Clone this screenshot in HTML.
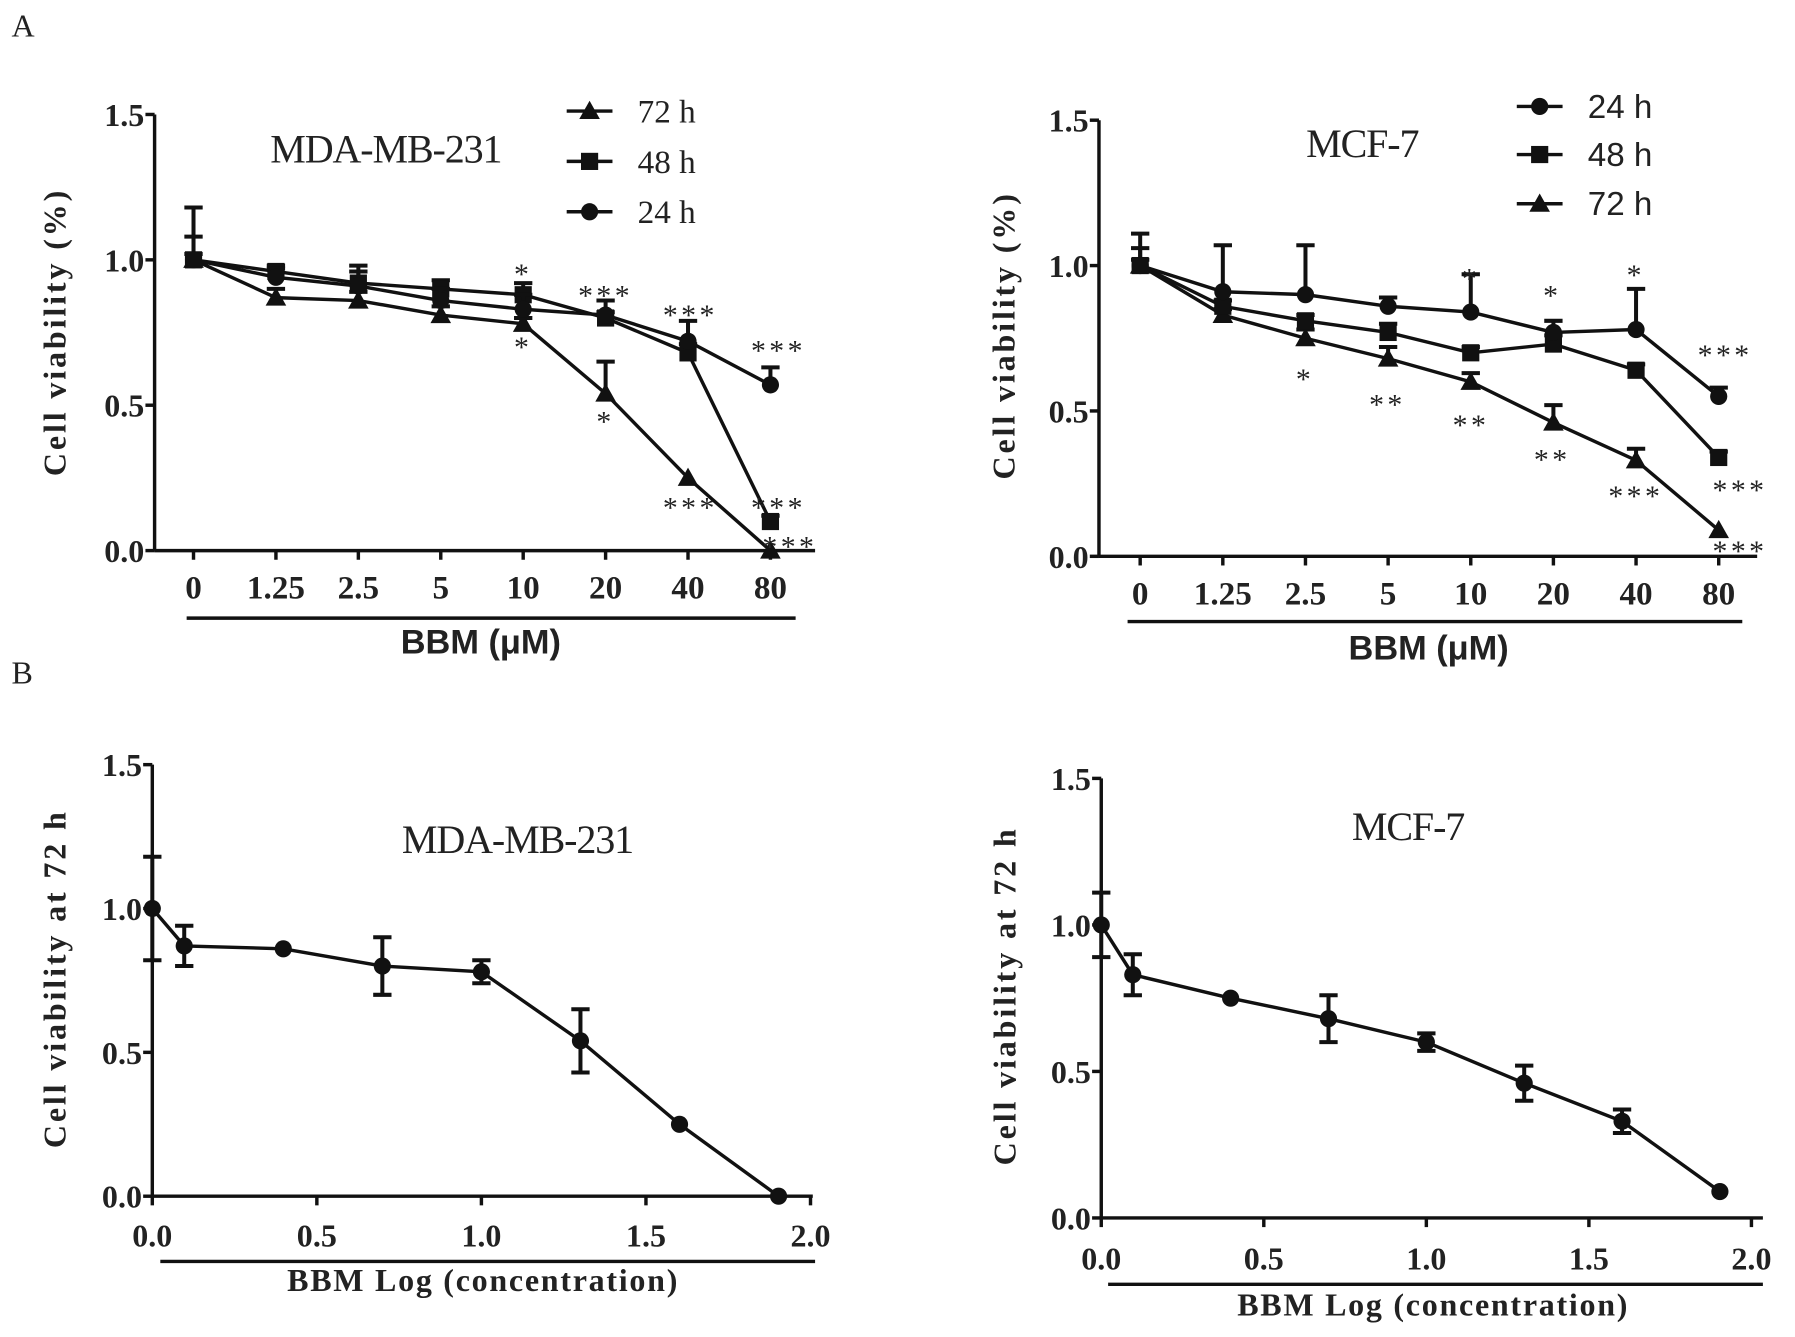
<!DOCTYPE html>
<html><head><meta charset="utf-8"><style>
html,body{margin:0;padding:0;background:#fff;}
svg{display:block;}
text{fill:#222;}
</style></head><body>
<svg id="fig" width="1795" height="1337" viewBox="0 0 1568 1168" xmlns="http://www.w3.org/2000/svg">
<text x="10" y="32" font-family="Liberation Serif, serif" font-size="28">A</text>
<text x="10" y="597" font-family="Liberation Serif, serif" font-size="28">B</text>
</svg>
<script>
const concLabels = ["0","1.25","2.5","5","10","20","40","80"];
const yTicks = [0, 0.5, 1.0, 1.5];
const yTickLabels = ["0.0","0.5","1.0","1.5"];
const logX = [0, 0.097, 0.398, 0.699, 1.0, 1.301, 1.602, 1.903];
const logTicks = [0, 0.5, 1.0, 1.5, 2.0];
const logTickLabels = ["0.0","0.5","1.0","1.5","2.0"];

const mdaV24 = [1.0, 0.94, 0.91, 0.86, 0.83, 0.81, 0.72, 0.57];
const mdaE24 = [0.08, 0.03, 0.05, 0.04, 0.05, 0.05, 0.07, 0.06];
const mdaV48 = [1.0, 0.96, 0.92, 0.90, 0.88, 0.80, 0.68, 0.10];
const mdaE48 = [0.02, 0.02, 0.06, 0.03, 0.04, 0.02, 0.03, 0.02];
const mdaV72 = [1.0, 0.87, 0.86, 0.81, 0.78, 0.54, 0.25, 0.0];
const mdaE72 = [0.18, 0.03, 0.03, 0.03, 0.02, 0.11, 0.01, 0.0];

const mcfV24 = [1.0, 0.91, 0.90, 0.86, 0.84, 0.77, 0.78, 0.55];
const mcfE24 = [0.11, 0.16, 0.17, 0.03, 0.13, 0.04, 0.14, 0.03];
const mcfV48 = [1.0, 0.86, 0.81, 0.77, 0.70, 0.73, 0.64, 0.34];
const mcfE48 = [0.06, 0.02, 0.02, 0.03, 0.02, 0.03, 0.02, 0.02];
const mcfV72 = [1.0, 0.83, 0.75, 0.68, 0.60, 0.46, 0.33, 0.09];
const mcfE72 = [0.02, 0.02, 0.03, 0.04, 0.03, 0.06, 0.04, 0.01];

const mdaLogV = [1.0, 0.87, 0.86, 0.80, 0.78, 0.54, 0.25, 0.0];
const mdaLogE = [0.18, 0.07, 0.01, 0.10, 0.04, 0.11, 0.01, 0.0];
const mcfLogV = [1.0, 0.83, 0.75, 0.68, 0.60, 0.46, 0.33, 0.09];
const mcfLogE = [0.11, 0.07, 0.01, 0.08, 0.03, 0.06, 0.04, 0.01];

const svg = document.getElementById('fig');
const NS = 'http://www.w3.org/2000/svg';
function mk(tag, attrs, parent){
  const e = document.createElementNS(NS, tag);
  for (const k in attrs) e.setAttribute(k, attrs[k]);
  (parent||svg).appendChild(e);
  return e;
}
function txt(s, x, y, size, fam, weight, anchor, parent){
  const t = mk('text', {x:x, y:y, 'font-size':size, 'font-family':fam, 'font-weight':weight||'normal', 'text-anchor':anchor||'middle'}, parent);
  t.textContent = s;
  return t;
}
const SERIF = 'Liberation Serif, serif', SANS = 'Liberation Sans, sans-serif';

function marker(type, x, y, g){
  let m;
  if (type === 'circle') m = mk('circle', {cx:x, cy:y, r:7.5, fill:'#111'}, g);
  else if (type === 'square') m = mk('rect', {x:x-7.5, y:y-7.5, width:15, height:15, fill:'#111'}, g);
  else m = mk('polygon', {points:`${x},${y-9} ${x-9},${y+7} ${x+9},${y+7}`, fill:'#111'}, g);
  
  
}

function axes(p, name){
  const g = mk('g', {});
  
  
  const sy = v => p.y0 + (p.y15 - p.y0) * v / 1.5;
  const ya = mk('line', {x1:p.ax, y1:sy(0), x2:p.ax, y2:sy(1.5), stroke:'#111', 'stroke-width':3}, g);
  
  
  yTicks.forEach((v, i) => {
    mk('line', {x1:p.ax-8, y1:sy(v), x2:p.ax, y2:sy(v), stroke:'#111', 'stroke-width':3}, g);
    const t = txt(yTickLabels[i], p.ax-9, sy(v)+10, 28, SERIF, 'bold', 'end', g);
    
    
  });
  const xa = mk('line', {x1:p.ax, y1:sy(0), x2:p.axEnd, y2:sy(0), stroke:'#111', 'stroke-width':3}, g);
  
  
  const ul = mk('line', {x1:p.ulx1, y1:p.uly, x2:p.ulx2, y2:p.uly, stroke:'#111', 'stroke-width':3}, g);
  
  
  const yl = txt(p.ylabel, 0, 0, 28, SERIF, 'bold', 'middle', g);
  yl.setAttribute('letter-spacing', '2.5');
  yl.setAttribute('transform', `translate(${p.ylx},${p.yly}) rotate(-90)`);
  
  
  const xl = txt(p.xlabel, p.xlx, p.xly, p.xlsize, p.xlfam, 'bold', 'middle', g);
  if (p.xlls) xl.setAttribute('letter-spacing', p.xlls);
  
  
  const ti = txt(p.title, p.tx, p.ty, 35, SERIF, 'normal', 'middle', g);
  ti.setAttribute('letter-spacing', '-1');
  
  
  return {g, sy};
}

function series(g, xs, sy, vals, errs, type, name, bothSides){
  const sg = mk('g', {}, g);
  
  
  const pts = vals.map((v, i) => xs[i] + ',' + sy(v)).join(' ');
  mk('polyline', {points:pts, fill:'none', stroke:'#111', 'stroke-width':3}, sg);
  vals.forEach((v, i) => {
    const e = errs[i];
    if (e > 0.015){
      const top = sy(v+e), bot = bothSides ? sy(v-e) : sy(v);
      const eb = mk('path', {d:`M${xs[i]},${bot} L${xs[i]},${top} M${xs[i]-8},${top} L${xs[i]+8},${top}` + (bothSides ? ` M${xs[i]-8},${bot} L${xs[i]+8},${bot}` : ''), stroke:'#111', 'stroke-width':3.5, fill:'none'}, sg);
      
      
    }
    marker(type, xs[i], sy(v), sg);
  });
}

function legend(g, entries, x, ys, fam){
  entries.forEach((en, i) => {
    const lg = mk('g', {}, g);
    
    
    mk('line', {x1:x, y1:ys[i], x2:x+40, y2:ys[i], stroke:'#111', 'stroke-width':3}, lg);
    marker(en[1], x+20, ys[i], lg);
    txt(en[0], x+62, ys[i]+10, 29, fam, 'normal', 'start', lg);
  });
}

function stars(g, list){
  list.forEach(s => {
    const t = txt(s[0], s[1], s[2], 26, SERIF, 'normal', 'middle', g);
    t.setAttribute('fill', '#444');
    t.setAttribute('letter-spacing', '3');
    
    
  });
}

/* Panel A left */
{
  const p = {ax:135, y0:481, y15:100, axEnd:712, ulx1:163, ulx2:695, uly:540,
    ylabel:'Cell viability (%)', ylx:57, yly:290, xlabel:'BBM (\u03bcM)', xlx:420, xly:571, xlsize:30, xlfam:SANS,
    title:'MDA-MB-231', tx:337, ty:142};
  const {g, sy} = axes(p, 'chart-mda-timecourse');
  const xs = concLabels.map((c, i) => 169 + i*72);
  concLabels.forEach((c, i) => {
    mk('line', {x1:xs[i], y1:481, x2:xs[i], y2:489, stroke:'#111', 'stroke-width':3}, g);
    const t = txt(c, xs[i], 523, 29, SERIF, 'bold', 'middle', g);
    
    
  });
  series(g, xs, sy, mdaV72, mdaE72, 'triangle', 'series-72h', false);
  series(g, xs, sy, mdaV48, mdaE48, 'square', 'series-48h', false);
  series(g, xs, sy, mdaV24, mdaE24, 'circle', 'series-24h', false);
  legend(g, [['72 h','triangle'],['48 h','square'],['24 h','circle']], 495, [97,141,185], SERIF);
  stars(g, [['*',457,248],['*',457,312],['***',529,267],['*',529,377],['***',603,284],['***',603,452],['***',680,315],['***',680,452],['***',690,486]]);
}
/* Panel A right */
{
  const p = {ax:960, y0:486, y15:105, axEnd:1535, ulx1:985, ulx2:1522, uly:543,
    ylabel:'Cell viability (%)', ylx:886, yly:293, xlabel:'BBM (\u03bcM)', xlx:1248, xly:576, xlsize:30, xlfam:SANS,
    title:'MCF-7', tx:1190, ty:137};
  const {g, sy} = axes(p, 'chart-mcf7-timecourse');
  const xs = concLabels.map((c, i) => 996 + i*72.2);
  concLabels.forEach((c, i) => {
    mk('line', {x1:xs[i], y1:486, x2:xs[i], y2:494, stroke:'#111', 'stroke-width':3}, g);
    const t = txt(c, xs[i], 528, 29, SERIF, 'bold', 'middle', g);
    
    
  });
  series(g, xs, sy, mcfV72, mcfE72, 'triangle', 'series-72h', false);
  series(g, xs, sy, mcfV48, mcfE48, 'square', 'series-48h', false);
  series(g, xs, sy, mcfV24, mcfE24, 'circle', 'series-24h', false);
  legend(g, [['24 h','circle'],['48 h','square'],['72 h','triangle']], 1325, [93,135,178], SANS);
  stars(g, [['*',1140,340],['**',1212,362],['**',1285,380],['**',1356,410],['***',1429,442],['***',1520,437],['***',1520,490],['*',1285,252],['*',1356,267],['*',1429,249],['***',1507,319]]);
}
/* Panel B left */
{
  const p = {ax:133, y0:1045, y15:668, axEnd:710, ulx1:140, ulx2:712, uly:1102,
    ylabel:'Cell viability at 72 h', ylx:57, yly:855, xlabel:'BBM Log (concentration)', xlx:422, xly:1128, xlsize:28, xlfam:SERIF, xlls:'1.5',
    title:'MDA-MB-231', tx:452, ty:745};
  const {g, sy} = axes(p, 'chart-mda-log');
  const sx = v => 133 + v*287.5;
  logTicks.forEach((v, i) => {
    mk('line', {x1:sx(v), y1:1045, x2:sx(v), y2:1053, stroke:'#111', 'stroke-width':3}, g);
    const t = txt(logTickLabels[i], sx(v), 1089, 28, SERIF, 'bold', 'middle', g);
    
    
  });
  series(g, logX.map(sx), sy, mdaLogV, mdaLogE, 'circle', 'series-72h', true);
}
/* Panel B right */
{
  const p = {ax:962, y0:1064, y15:680, axEnd:1540, ulx1:968, ulx2:1540, uly:1122,
    ylabel:'Cell viability at 72 h', ylx:887, yly:870, xlabel:'BBM Log (concentration)', xlx:1252, xly:1149, xlsize:28, xlfam:SERIF, xlls:'1.5',
    title:'MCF-7', tx:1230, ty:734};
  const {g, sy} = axes(p, 'chart-mcf7-log');
  const sx = v => 962 + v*284;
  logTicks.forEach((v, i) => {
    mk('line', {x1:sx(v), y1:1064, x2:sx(v), y2:1072, stroke:'#111', 'stroke-width':3}, g);
    const t = txt(logTickLabels[i], sx(v), 1109, 28, SERIF, 'bold', 'middle', g);
    
    
  });
  series(g, logX.map(sx), sy, mcfLogV, mcfLogE, 'circle', 'series-72h', true);
}
</script>
</body></html>
